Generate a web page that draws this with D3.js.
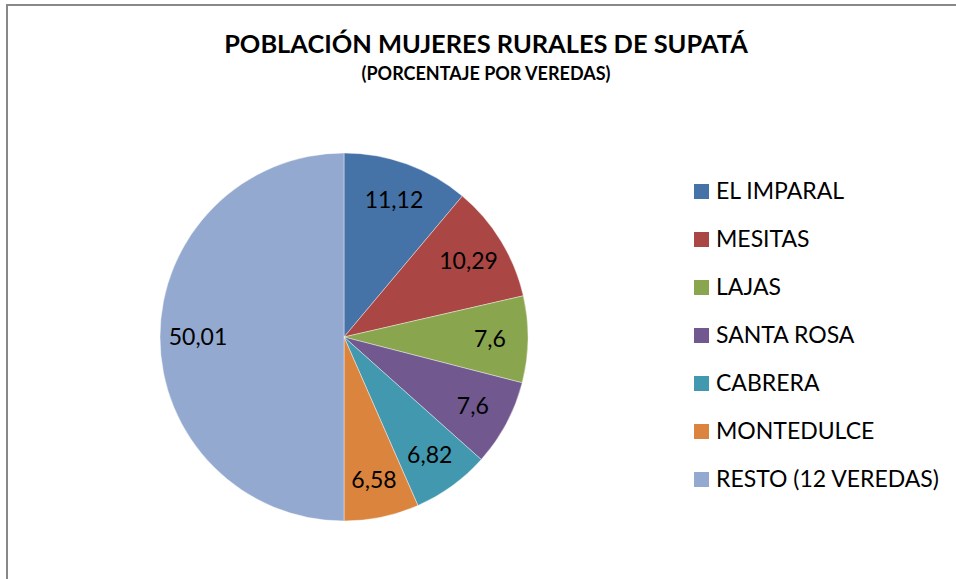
<!DOCTYPE html>
<html>
<head>
<meta charset="utf-8">
<script src="https://cdn.jsdelivr.net/npm/d3@7"></script>
<style>
  html, body { margin: 0; padding: 0; background: #fff; }
  svg { display: block; font-family: Lato, "Open Sans", sans-serif; }
</style>
</head>
<body>
<div id="chart"></div>
<script>
// Données du graphique
const veredas = ["EL IMPARAL", "MESITAS", "LAJAS", "SANTA ROSA", "CABRERA", "MONTEDULCE", "RESTO (12 VEREDAS)"];
const valeurs = [11.12, 10.29, 7.6, 7.6, 6.82, 6.58, 50.01];
const etiquettes = ["11,12", "10,29", "7,6", "7,6", "6,82", "6,58", "50,01"];
const couleurs = ["#4572A7", "#AA4643", "#89A54E", "#71588F", "#4198AF", "#DB843D", "#93A9CF"];

const titre = "POBLACIÓN MUJERES RURALES DE SUPATÁ";
const sousTitre = "(PORCENTAJE POR VEREDAS)";

const width = 956;
const height = 579;

const data = veredas.map((d, i) => ({ name: d, value: valeurs[i], label: etiquettes[i], col: couleurs[i] }));

//---------------------------------------------------------------------------------------

// Création du canevas SVG
const svg = d3
  .select("#chart")
  .append("svg")
  .attr("width", width)
  .attr("height", height);

// cadre du graphique
svg.append("rect")
  .attr("x", 7)
  .attr("y", 5)
  .attr("width", 960)
  .attr("height", 600)
  .attr("fill", "none")
  .attr("stroke", "#888")
  .attr("stroke-width", 2);

// Titre et sous-titre
svg.append("text")
  .attr("x", 486)
  .attr("y", 53)
  .attr("text-anchor", "middle")
  .attr("font-weight", "bold")
  .attr("font-size", "25.4px")
  .text(titre);

svg.append("text")
  .attr("x", 486)
  .attr("y", 80)
  .attr("text-anchor", "middle")
  .attr("font-weight", "bold")
  .attr("font-size", "18px")
  .text(sousTitre);

//---------------------------------------------------------------------------------------

// Camembert
const cx = 344;
const cy = 337;
const radius = 184;

const pie = d3.pie().sort(null).value((d) => d.value);
const arc = d3.arc().innerRadius(0).outerRadius(radius);
const labelArc = d3.arc().innerRadius(146).outerRadius(146);

const svgPie = svg.append("g").attr("transform", `translate(${cx}, ${cy})`);

const slices = svgPie
  .selectAll(".slice")
  .data(pie(data))
  .join("g")
  .attr("class", "slice");

slices.append("path")
  .attr("d", arc)
  .attr("fill", (d) => d.data.col)
  .attr("stroke", "rgba(255,255,255,0.5)")
  .attr("stroke-width", 0.8);

slices.append("text")
  .attr("transform", (d) => `translate(${labelArc.centroid(d)})`)
  .attr("text-anchor", "middle")
  .attr("dy", "0.36em")
  .attr("font-size", "23px")
  .attr("fill", "#000")
  .text((d) => d.data.label);

//---------------------------------------------------------------------------------------

// Légende
const legend = svg
  .selectAll(".legend")
  .data(data)
  .join("g")
  .attr("class", "legend")
  .attr("transform", (d, i) => `translate(694, ${199 + i * 48})`);

legend.append("rect")
  .attr("y", -15)
  .attr("width", 15)
  .attr("height", 15)
  .attr("fill", (d) => d.col);

legend.append("text")
  .attr("x", 22)
  .attr("y", 0)
  .attr("font-size", "23px")
  .attr("fill", "#000")
  .text((d) => d.name);
</script>
</body>
</html>
